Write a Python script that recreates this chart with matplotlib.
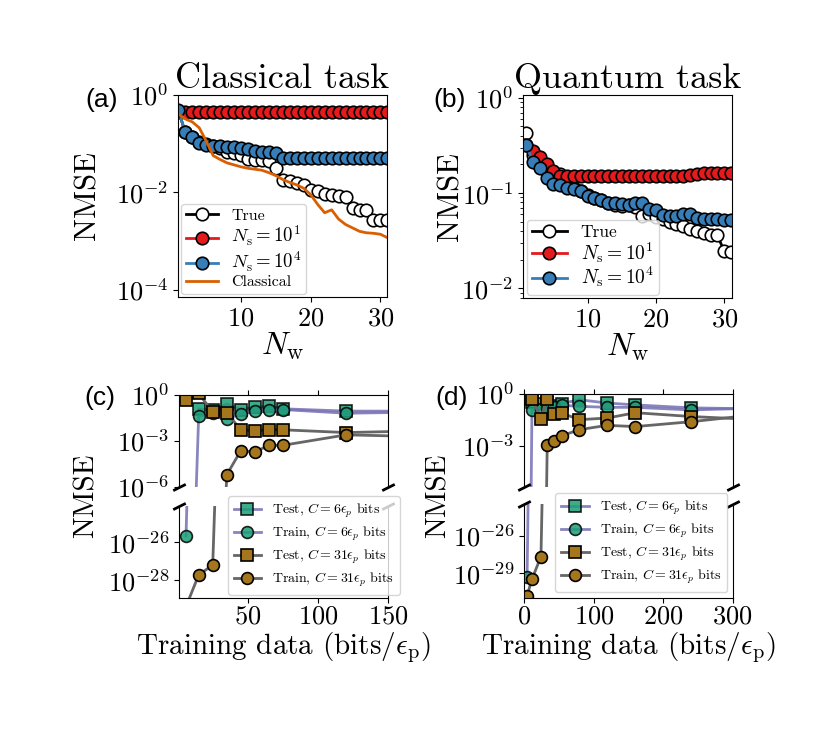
import numpy as np
import matplotlib
matplotlib.use('Agg')
import matplotlib.pyplot as plt
from matplotlib.ticker import NullLocator, FixedLocator

plt.rcParams.update({
    'font.family': 'serif',
    'font.serif': ['cmr10'],
    'mathtext.fontset': 'cm',
    'axes.formatter.use_mathtext': True,
    'axes.unicode_minus': False,
})

# ---------------- data (log10 of NMSE) ----------------
a_nw = [1, 2, 3, 4, 5, 6, 7, 8, 9, 10, 11, 12, 13, 14, 15, 16,
        17, 18, 19, 20, 21, 22, 23, 24, 25, 26, 27, 28, 29, 30, 31]
a_true_log = [-0.33, -0.77, -0.87, -0.97, -1.02, -1.05, -1.1, -1.17, -1.2, -1.24,
              -1.31, -1.34, -1.35, -1.37, -1.51, -1.75, -1.78, -1.81, -1.85, -1.95,
              -1.98, -2.03, -2.05, -2.07, -2.1, -2.32, -2.36, -2.37, -2.56, -2.57, -2.57]
a_ns1_log = [-0.35, -0.36, -0.36, -0.36, -0.36, -0.36, -0.36, -0.36, -0.36, -0.36,
             -0.36, -0.36, -0.36, -0.36, -0.36, -0.36, -0.36, -0.36, -0.36, -0.36,
             -0.36, -0.36, -0.36, -0.36, -0.36, -0.36, -0.36, -0.36, -0.36, -0.36, -0.36]
a_ns4_log = [-0.32, -0.77, -0.87, -1.0, -1.03, -1.05, -1.06, -1.07, -1.08, -1.1,
             -1.12, -1.15, -1.17, -1.18, -1.19, -1.3, -1.3, -1.3, -1.3, -1.3,
             -1.3, -1.3, -1.3, -1.3, -1.3, -1.3, -1.3, -1.3, -1.3, -1.3, -1.3]
a_classical_log = [-0.4, -0.5, -0.56, -0.68, -0.95, -1.25, -1.33, -1.4, -1.44, -1.48,
                   -1.51, -1.53, -1.55, -1.6, -1.66, -1.74, -1.8, -1.85, -1.92, -2.05,
                   -2.25, -2.42, -2.36, -2.55, -2.66, -2.73, -2.8, -2.83, -2.84, -2.86, -2.93]

b_nw = a_nw
b_true_log = [-0.37, -0.6, -0.7, -0.78, -0.8, -0.8, -0.92, -0.95, -0.98, -1.02,
              -1.05, -1.07, -1.1, -1.12, -1.13, -1.12, -1.15, -1.24, -1.22, -1.25,
              -1.27, -1.3, -1.32, -1.35, -1.38, -1.4, -1.42, -1.44, -1.44, -1.61, -1.62]
b_ns1_log = [-0.5, -0.56, -0.62, -0.7, -0.77, -0.82, -0.82, -0.82, -0.82, -0.82,
             -0.82, -0.82, -0.82, -0.82, -0.82, -0.82, -0.82, -0.82, -0.82, -0.82,
             -0.82, -0.82, -0.82, -0.82, -0.81, -0.8, -0.79, -0.79, -0.79, -0.79, -0.79]
b_ns4_log = [-0.495, -0.67, -0.74, -0.84, -0.9, -0.91, -0.95, -0.96, -0.98, -1.03,
             -1.05, -1.07, -1.1, -1.1, -1.11, -1.12, -1.1, -1.1, -1.17, -1.18,
             -1.23, -1.24, -1.24, -1.22, -1.22, -1.26, -1.27, -1.27, -1.27, -1.28, -1.28]

c_x = [6, 15, 25, 35, 45, 55, 65, 75, 120, 240]
c_test6_log = [np.nan, -0.9, -1.0, -0.59, -0.96, -0.78, -0.74, -0.9, -1.05, -1.06]
c_train6_log = [-25.65, -1.39, -1.2, -1.55, -1.24, -1.06, -1.0, -0.95, -1.19, -1.02]
c_test31_log = [-0.3, 0.1, -1.11, -1.17, -2.26, -2.33, -2.26, -2.27, -2.45, -2.2]
c_train31_log = [-29.4, -27.73, -27.2, -5.2, -3.63, -3.72, -3.28, -3.28, -2.6, -2.85]

d_x = [4, 11, 24, 33, 43, 54, 79, 119, 160, 240, 320]
d_test6_log = [np.nan, -0.45, -0.6, -0.5, -0.7, -0.55, -0.33, -0.52, -0.63, -0.8, -0.85]
d_train6_log = [-29.3, -0.9, -0.85, -0.8, -0.75, -0.65, -0.71, -0.77, -0.77, -0.92, -0.83]
d_test31_log = [np.nan, -0.27, -1.43, -0.27, -1.16, -1.1, -1.48, -1.39, -1.08, -1.3, -1.45]
d_train31_log = [-30.8, -29.46, -27.65, -2.97, -2.7, -2.41, -2.06, -1.81, -1.88, -1.6, -1.25]

labels_ab = ['True', r'$N_\mathrm{s}=10^1$', r'$N_\mathrm{s}=10^4$', 'Classical']
labels_cd = [r'Test, $C=6\epsilon_p$ bits', r'Train, $C=6\epsilon_p$ bits',
             r'Test, $C=31\epsilon_p$ bits', r'Train, $C=31\epsilon_p$ bits']


def p10(v):
    return np.power(10.0, np.array(v, dtype=float))


RED = '#e41a1c'
BLUE = '#377eb8'
ORANGE = '#d95f02'
GREEN = '#1b9e77'
BROWN = '#a6761d'
PURPLE = '#7570b3'
GRAY = '#666666'

TICK_FS = 19
W, H = 831, 743
fig = plt.figure(figsize=(W / 100, H / 100), dpi=100)


def rect(x0, y0, x1, y1):
    return [x0 / W, 1 - y1 / H, (x1 - x0) / W, (y1 - y0) / H]


ax_a = fig.add_axes(rect(178.3, 94.5, 386.7, 297.3))
ax_b = fig.add_axes(rect(523.3, 94.5, 731.7, 298.0))
ax_ct = fig.add_axes(rect(179, 395, 388.3, 487))
ax_cb = fig.add_axes(rect(179, 506, 388.3, 598))
ax_dt = fig.add_axes(rect(524.3, 394, 732.7, 486.7))
ax_db = fig.add_axes(rect(524.3, 504, 732.7, 598.3))

mk = dict(marker='o', markersize=9, markeredgecolor='k', markeredgewidth=1.2, lw=2)

# ---------------- (a) ----------------
ax = ax_a
ax.plot(a_nw, p10(a_true_log), color='k', markerfacecolor='white', label=labels_ab[0], **mk)
ax.plot(a_nw, p10(a_ns1_log), color=RED, markerfacecolor=RED, label=labels_ab[1], **mk)
ax.plot(a_nw, p10(a_ns4_log), color=BLUE, markerfacecolor=BLUE, label=labels_ab[2], **mk)
ax.plot(a_nw, p10(a_classical_log), color=ORANGE, lw=2, label=labels_ab[3])
ax.set_yscale('log')
ax.set_ylim(10 ** -4.15, 1.0)
ax.set_xlim(1.0, 30.9)
ax.yaxis.set_major_locator(FixedLocator([1e-4, 1e-2, 1e0]))
ax.yaxis.set_minor_locator(NullLocator())
ax.set_xticks([10, 20, 30])
ax.tick_params(labelsize=TICK_FS)
ax.set_title('Classical task', fontsize=26, pad=4)
ax.set_xlabel(r'$N_\mathrm{w}$', fontsize=23, labelpad=0)
ax.set_ylabel('NMSE', fontsize=22)
ax.yaxis.set_label_coords(-0.37, 0.5)
leg = ax.legend(loc='lower left', fontsize=11.5, borderaxespad=0.2, handlelength=2.0,
                labelspacing=0.08, handletextpad=0.8, borderpad=0.3)
for i in (1, 2):
    leg.get_texts()[i].set_fontsize(13.5)

# ---------------- (b) ----------------
ax = ax_b
ax.plot(b_nw, p10(b_true_log), color='k', markerfacecolor='white', label=labels_ab[0], **mk)
ax.plot(b_nw, p10(b_ns1_log), color=RED, markerfacecolor=RED, label=labels_ab[1], **mk)
ax.plot(b_nw, p10(b_ns4_log), color=BLUE, markerfacecolor=BLUE, label=labels_ab[2], **mk)
ax.set_yscale('log')
ax.set_ylim(10 ** -2.1, 10 ** 0.034)
ax.set_xlim(0.6, 31.1)
ax.set_xticks([10, 20, 30])
ax.tick_params(labelsize=TICK_FS)
ax.set_title('Quantum task', fontsize=26, pad=4)
ax.set_xlabel(r'$N_\mathrm{w}$', fontsize=23, labelpad=0)
ax.set_ylabel('NMSE', fontsize=22)
ax.yaxis.set_label_coords(-0.28, 0.5)
leg = ax.legend(loc='lower left', fontsize=12.5, borderaxespad=0.2, handlelength=2.0,
                labelspacing=0.0, handletextpad=0.8, borderpad=0.3)
for i in (1, 2):
    leg.get_texts()[i].set_fontsize(14)

# ---------------- (c), (d) broken axes ----------------
sq = dict(marker='s', markersize=8.5, markeredgecolor='k', markeredgewidth=1.2)
ci = dict(marker='o', markersize=8.5, markeredgecolor='k', markeredgewidth=1.2)


def draw_pair(axes, x, t6, r6, t31, r31):
    handles = []
    for a in axes:
        h1, = a.plot(x, p10(t6), color=PURPLE, alpha=0.85, lw=2, markerfacecolor=GREEN, **sq)
        h2, = a.plot(x, p10(r6), color=PURPLE, alpha=0.85, lw=2, markerfacecolor=GREEN, **ci)
        h3, = a.plot(x, p10(t31), color=GRAY, lw=2, markerfacecolor=BROWN, **sq)
        h4, = a.plot(x, p10(r31), color=GRAY, lw=2, markerfacecolor=BROWN, **ci)
        handles = [h1, h2, h3, h4]
    return handles


def style_broken(top, bot):
    for a in (top, bot):
        a.set_yscale('log')
        a.yaxis.set_minor_locator(NullLocator())
        a.tick_params(labelsize=TICK_FS)
    top.spines['bottom'].set_visible(False)
    bot.spines['top'].set_visible(False)
    top.xaxis.tick_top()
    top.tick_params(labeltop=False)
    bot.xaxis.tick_bottom()
    bot.tick_params(axis='x', pad=1.5)
    d = 0.5
    kw = dict(marker=[(-1, -d), (1, d)], markersize=9, linestyle='none',
              color='k', mec='k', mew=2, clip_on=False)
    top.plot([0, 1], [0, 0], transform=top.transAxes, **kw)
    bot.plot([0, 1], [1, 1], transform=bot.transAxes, **kw)


hc = draw_pair((ax_ct, ax_cb), c_x, c_test6_log, c_train6_log, c_test31_log, c_train31_log)
style_broken(ax_ct, ax_cb)
ax_ct.set_ylim(1e-6, 1.0)
ax_cb.set_ylim(10 ** -28.95, 10 ** -24.07)
ax_ct.yaxis.set_major_locator(FixedLocator([1e-6, 1e-3, 1e0]))
ax_cb.yaxis.set_major_locator(FixedLocator([1e-28, 1e-26]))
for a in (ax_ct, ax_cb):
    a.set_xlim(1, 150)
    a.set_xticks([50, 100, 150])
ax_cb.set_xlabel(r'Training data (bits/$\epsilon_\mathrm{p}$)', fontsize=21, labelpad=1)
ax_cb.legend(hc, labels_cd, loc='lower right', bbox_to_anchor=(1.056, 0.033),
             borderaxespad=0, fontsize=10, labelspacing=0.35, handlelength=2.0,
             handletextpad=0.8)

hd = draw_pair((ax_dt, ax_db), d_x, d_test6_log, d_train6_log, d_test31_log, d_train31_log)
style_broken(ax_dt, ax_db)
ax_dt.set_ylim(10 ** -5.35, 1.0)
ax_db.set_ylim(1e-31, 10 ** -23.43)
ax_dt.yaxis.set_major_locator(FixedLocator([1e-3, 1e0]))
ax_db.yaxis.set_major_locator(FixedLocator([1e-29, 1e-26]))
for a in (ax_dt, ax_db):
    a.set_xlim(0, 300)
    a.set_xticks([0, 100, 200, 300])
ax_db.set_xlabel(r'Training data (bits/$\epsilon_\mathrm{p}$)', fontsize=21, labelpad=1)
ax_db.legend(hd, labels_cd, loc='lower right', bbox_to_anchor=(0.974, 0.067),
             borderaxespad=0, fontsize=10, labelspacing=0.35, handlelength=2.0,
             handletextpad=0.8)

fig.text(86 / W, 1 - 496 / H, 'NMSE', rotation=90, fontsize=21, ha='center', va='center')
fig.text(438 / W, 1 - 496 / H, 'NMSE', rotation=90, fontsize=21, ha='center', va='center')

# panel labels
for lab, (px, py) in {'(a)': (102, 100), '(b)': (450, 100),
                      '(c)': (100, 398), '(d)': (452, 398)}.items():
    fig.text(px / W, 1 - py / H, lab, fontsize=19, family='Liberation Sans',
             ha='center', va='center')

fig.savefig('out.png', dpi=100)
